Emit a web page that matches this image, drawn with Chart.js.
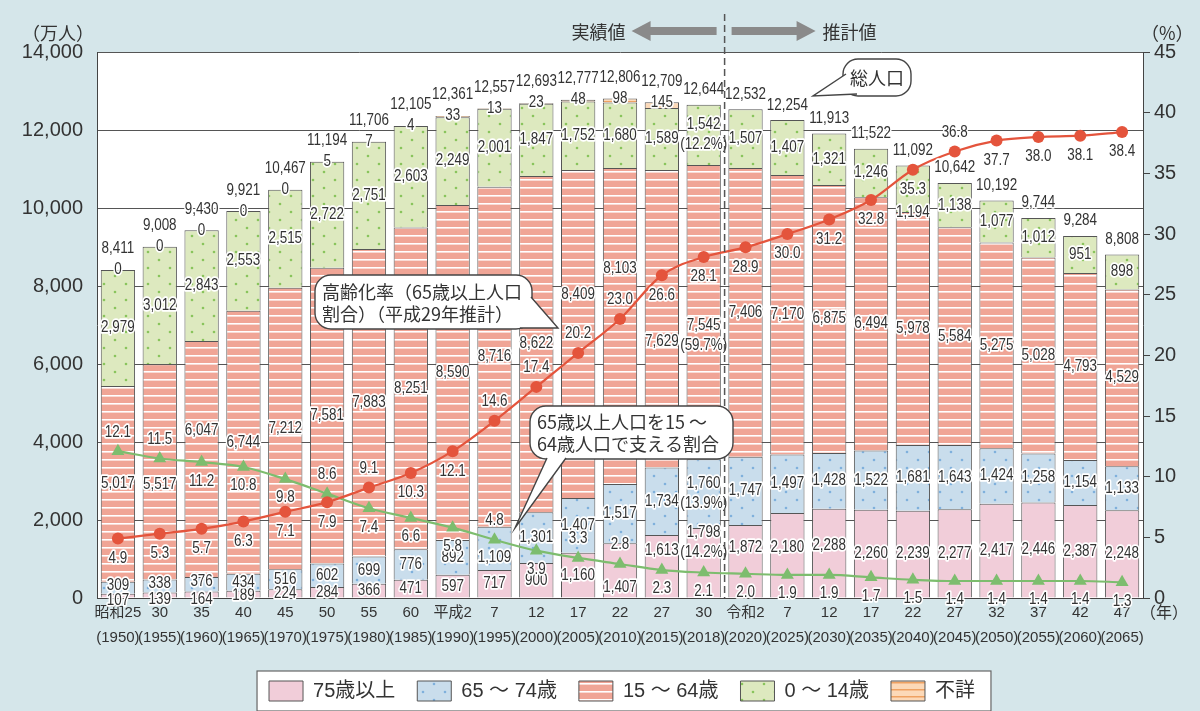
<!DOCTYPE html>
<html lang="ja">
<head>
<meta charset="utf-8">
<title>高齢化の推移と将来推計</title>
<script src="https://cdn.jsdelivr.net/npm/chart.js@4/dist/chart.umd.min.js"></script>
<style>
  html, body { margin: 0; padding: 0; background: #d5e6ea; }
  canvas { display: block; }
</style>
</head>
<body>
<canvas id="chart" width="1200" height="711"></canvas>
<script>
// 和暦ラベルと西暦
const eras = ['昭和25', '30', '35', '40', '45', '50', '55', '60', '平成2', '7', '12', '17', '22', '27', '30',
  '令和2', '7', '12', '17', '22', '27', '32', '37', '42', '47'];
const years = [1950, 1955, 1960, 1965, 1970, 1975, 1980, 1985, 1990, 1995, 2000, 2005, 2010, 2015, 2018,
  2020, 2025, 2030, 2035, 2040, 2045, 2050, 2055, 2060, 2065];

// 人口（万人）
const totalPop = [8411, 9008, 9430, 9921, 10467, 11194, 11706, 12105, 12361, 12557, 12693, 12777, 12806, 12709, 12644,
  12532, 12254, 11913, 11522, 11092, 10642, 10192, 9744, 9284, 8808];
const age75plus = [107, 139, 164, 189, 224, 284, 366, 471, 597, 717, 900, 1160, 1407, 1613, 1798,
  1872, 2180, 2288, 2260, 2239, 2277, 2417, 2446, 2387, 2248];
const age65to74 = [309, 338, 376, 434, 516, 602, 699, 776, 892, 1109, 1301, 1407, 1517, 1734, 1760,
  1747, 1497, 1428, 1522, 1681, 1643, 1424, 1258, 1154, 1133];
const age15to64 = [5017, 5517, 6047, 6744, 7212, 7581, 7883, 8251, 8590, 8716, 8622, 8409, 8103, 7629, 7545,
  7406, 7170, 6875, 6494, 5978, 5584, 5275, 5028, 4793, 4529];
const age0to14 = [2979, 3012, 2843, 2553, 2515, 2722, 2751, 2603, 2249, 2001, 1847, 1752, 1680, 1589, 1542,
  1507, 1407, 1321, 1246, 1194, 1138, 1077, 1012, 951, 898];
const ageUnknown = [0, 0, 0, 0, 0, 5, 7, 4, 33, 13, 23, 48, 98, 145, null,
  null, null, null, null, null, null, null, null, null, null];

// 割合（%）
const agingRate = [4.9, 5.3, 5.7, 6.3, 7.1, 7.9, 9.1, 10.3, 12.1, 14.6, 17.4, 20.2, 23.0, 26.6, 28.1,
  28.9, 30.0, 31.2, 32.8, 35.3, 36.8, 37.7, 38.0, 38.1, 38.4];
const supportRatio = [12.1, 11.5, 11.2, 10.8, 9.8, 8.6, 7.4, 6.6, 5.8, 4.8, 3.9, 3.3, 2.8, 2.3, 2.1,
  2.0, 1.9, 1.9, 1.7, 1.5, 1.4, 1.4, 1.4, 1.4, 1.3];

// 平成30年の構成比（75歳以上, 65～74歳, 15～64歳, 0～14歳）
const shares2018 = ['14.2%', '13.9%', '59.7%', '12.2%'];

const FONT = "'Liberation Sans', 'Noto Sans CJK JP', sans-serif";
const CJK = "'Noto Sans CJK JP', sans-serif";
const INK = '#333';

const canvas = document.getElementById('chart');
const ctx = canvas.getContext('2d');

function tile(w, h, bg, paint) {
  const c = document.createElement('canvas');
  c.width = w;
  c.height = h;
  const g = c.getContext('2d');
  g.fillStyle = bg;
  g.fillRect(0, 0, w, h);
  if (paint) paint(g);
  return ctx.createPattern(c, 'repeat');
}

function dots(color) {
  return g => {
    g.fillStyle = color;
    [[5, 4], [16, 12]].forEach(([x, y]) => {
      g.beginPath();
      g.arc(x, y, 1.3, 0, Math.PI * 2);
      g.fill();
    });
  };
}

function stripes(color, y, thick) {
  return g => {
    g.fillStyle = color;
    g.fillRect(0, y, g.canvas.width, thick);
  };
}

const fillPink = '#f1cdd9';
const fillBlue = tile(22, 16, '#c9ddec', dots('#7fb0dc'));
const fillSalmon = tile(4, 8, '#f0a596', stripes('#ffffff', 3, 1.6));
const fillGreen = tile(22, 16, '#dde9bf', dots('#89c45c'));
const fillOrange = tile(4, 7, '#fcd9b8', stripes('#efa262', 3, 1.5));

// 数値ラベル（白縁付き、やや縦長）
function haloText(c, text, x, y, size) {
  c.save();
  c.translate(x, y);
  c.scale(0.84, 1);
  c.font = size + "px 'Liberation Sans', Arial, sans-serif";
  c.textAlign = 'center';
  c.textBaseline = 'middle';
  c.lineJoin = 'round';
  c.lineWidth = 3.5;
  c.strokeStyle = '#fff';
  c.strokeText(text, 0, 0);
  c.fillStyle = INK;
  c.fillText(text, 0, 0);
  c.restore();
}

const fmt = v => v.toLocaleString('en-US');

// 線や隣のラベルと重なるラベルの上下ずらし
const nudges = {
  0: { 0: 5, 1: 5, 2: 5, 3: 2, 12: 17, 13: -16, 14: -20, 15: -14, 16: -8, 17: -8 },
  1: { 0: -2, 1: -2, 2: -3, 9: 9 },
  2: { 1: 13, 2: -28, 11: -39, 12: -57, 13: 23, 14: 23 },
  3: { 19: 24 }
};
const redAbove = [6, 9, 10, 11, 12, 20];
const greenAbove = [0, 1, 5, 9, 11, 12];

const backdrop = {
  id: 'backdrop',
  afterLayout(chart) {
    // 凡例を少し右へ
    chart.legend.left += 22;
    chart.legend.right += 22;
  },
  beforeDraw(chart) {
    const c = chart.ctx;
    const a = chart.chartArea;
    c.save();
    c.fillStyle = '#d5e6ea';
    c.fillRect(0, 0, chart.width, chart.height);
    c.fillStyle = '#fff';
    c.fillRect(a.left, a.top, a.right - a.left, a.bottom - a.top);
    // 凡例の枠
    const hb = chart.legend.legendHitBoxes;
    if (hb && hb.length) {
      const l = Math.min(...hb.map(b => b.left)) - 12;
      const r = Math.max(...hb.map(b => b.left + b.width)) + 16;
      const t = hb[0].top - 10;
      const b = hb[0].top + hb[0].height + 10;
      c.fillRect(l, t, r - l, b - t);
      c.strokeStyle = '#666';
      c.lineWidth = 1.2;
      c.strokeRect(l, t, r - l, b - t);
    }
    c.restore();
  }
};

const valueLabels = {
  id: 'valueLabels',
  afterDatasetsDraw(chart) {
    const c = chart.ctx;
    const i2018 = years.indexOf(2018);
    for (let d = 0; d < 4; d++) {
      const ds = chart.data.datasets[d];
      chart.getDatasetMeta(d).data.forEach((el, i) => {
        const v = ds.data[i];
        if (v == null) return;
        const y = (el.y + el.base) / 2 + ((nudges[d] || {})[i] || 0);
        if (i === i2018) {
          haloText(c, fmt(v), el.x, y - 10, 16);
          haloText(c, '(' + shares2018[d] + ')', el.x, y + 10, 16);
        } else {
          haloText(c, fmt(v), el.x, y, 16);
        }
      });
    }
    // 不詳 と 総人口
    const metaU = chart.getDatasetMeta(4);
    totalPop.forEach((t, i) => {
      let top = Infinity;
      for (let d = 0; d < 5; d++) {
        if (chart.data.datasets[d].data[i] != null) top = Math.min(top, chart.getDatasetMeta(d).data[i].y);
      }
      const x = metaU.data[i].x;
      if (ageUnknown[i] != null) {
        haloText(c, fmt(ageUnknown[i]), x, top, 16);
        haloText(c, fmt(t), x, top - 21, 16);
      } else {
        haloText(c, fmt(t), x, top - 15, 16);
      }
    });
    // 折れ線の値
    chart.getDatasetMeta(5).data.forEach((el, i) => {
      haloText(c, agingRate[i].toFixed(1), el.x, el.y + (redAbove.includes(i) ? -19 : 20), 16);
    });
    chart.getDatasetMeta(6).data.forEach((el, i) => {
      haloText(c, supportRatio[i].toFixed(1), el.x, el.y + (greenAbove.includes(i) ? -19 : 19), 16);
    });
  }
};

function roundBox(c, x, y, w, h, r) {
  c.beginPath();
  c.moveTo(x + r, y);
  c.lineTo(x + w - r, y);
  c.arcTo(x + w, y, x + w, y + r, r);
  c.lineTo(x + w, y + h - r);
  c.arcTo(x + w, y + h, x + w - r, y + h, r);
  c.lineTo(x + r, y + h);
  c.arcTo(x, y + h, x, y + h - r, r);
  c.lineTo(x, y + r);
  c.arcTo(x, y, x + r, y, r);
  c.closePath();
}

function callout(c, box, base, tip, lines, tx, ty, align) {
  c.save();
  c.lineWidth = 1.4;
  c.strokeStyle = '#444';
  c.fillStyle = '#fff';
  roundBox(c, box[0], box[1], box[2], box[3], box[4]);
  c.fill();
  c.stroke();
  c.beginPath();
  c.moveTo(base[0][0], base[0][1]);
  c.lineTo(tip[0], tip[1]);
  c.lineTo(base[1][0], base[1][1]);
  c.closePath();
  c.fill();
  c.beginPath();
  c.moveTo(base[0][0], base[0][1]);
  c.lineTo(tip[0], tip[1]);
  c.lineTo(base[1][0], base[1][1]);
  c.stroke();
  c.fillStyle = INK;
  c.font = '18px ' + CJK;
  c.textAlign = align;
  c.textBaseline = 'middle';
  lines.forEach((s, k) => c.fillText(s, tx, ty + k * 22));
  c.restore();
}

const annotations = {
  id: 'annotations',
  afterDraw(chart) {
    const c = chart.ctx;
    const xs = chart.scales.x;
    const a = chart.chartArea;
    const mid = (xs.getPixelForValue(14) + xs.getPixelForValue(15)) / 2;
    c.save();
    // 実績値／推計値の境界
    c.strokeStyle = '#555';
    c.lineWidth = 1.5;
    c.setLineDash([7, 4]);
    c.beginPath();
    c.moveTo(mid, 14);
    c.lineTo(mid, a.bottom);
    c.stroke();
    c.setLineDash([]);
    c.fillStyle = '#8a8a8a';
    c.beginPath();
    c.moveTo(mid - 93, 31);
    c.lineTo(mid - 74, 21);
    c.lineTo(mid - 74, 27);
    c.lineTo(mid - 8, 27);
    c.lineTo(mid - 8, 35);
    c.lineTo(mid - 74, 35);
    c.lineTo(mid - 74, 41);
    c.closePath();
    c.fill();
    c.beginPath();
    c.moveTo(mid + 91, 31);
    c.lineTo(mid + 72, 21);
    c.lineTo(mid + 72, 27);
    c.lineTo(mid + 7, 27);
    c.lineTo(mid + 7, 35);
    c.lineTo(mid + 72, 35);
    c.lineTo(mid + 72, 41);
    c.closePath();
    c.fill();
    c.fillStyle = INK;
    c.font = '18px ' + CJK;
    c.textBaseline = 'middle';
    c.textAlign = 'right';
    c.fillText('実績値', mid - 99, 32);
    c.textAlign = 'left';
    c.fillText('推計値', mid + 98, 32);
    // 軸の単位
    c.fillText('（万人）', 22, 33);
    c.fillText('（%）', 1141, 33);
    c.font = '16px ' + CJK;
    c.fillText('（年）', 1140, 612);
    c.restore();

    callout(c, [843, 59, 68, 37, 15], [[846, 74], [857, 94]], [813, 96], ['総人口'], 877, 78, 'center');
    callout(c, [315, 275, 217, 54, 16], [[531, 297], [520, 328]], [558, 328],
      ['高齢化率（65歳以上人口', '割合）（平成29年推計）'], 322, 292, 'left');
    callout(c, [530, 406, 203, 53, 16], [[547, 458], [566, 458]], [515, 528],
      ['65歳以上人口を15 ～', '64歳人口で支える割合'], 537, 422, 'left');
  }
};

const barCommon = {
  type: 'bar',
  stack: 'pop',
  yAxisID: 'y',
  order: 1,
  borderColor: '#555',
  borderWidth: 1,
  barPercentage: 0.82,
  categoryPercentage: 1
};

new Chart(ctx, {
  data: {
    labels: eras.map((e, i) => [e, '(' + years[i] + ')']),
    datasets: [
      { ...barCommon, label: '75歳以上', data: age75plus, backgroundColor: fillPink },
      { ...barCommon, label: '65 ～ 74歳', data: age65to74, backgroundColor: fillBlue },
      { ...barCommon, label: '15 ～ 64歳', data: age15to64, backgroundColor: fillSalmon },
      { ...barCommon, label: '0 ～ 14歳', data: age0to14, backgroundColor: fillGreen },
      { ...barCommon, label: '不詳', data: ageUnknown, backgroundColor: fillOrange },
      {
        type: 'line', label: '高齢化率', data: agingRate, yAxisID: 'y2', order: 0,
        borderColor: '#e4543c', backgroundColor: '#e4543c', borderWidth: 2.2,
        pointRadius: 6, pointBorderWidth: 0, cubicInterpolationMode: 'monotone'
      },
      {
        type: 'line', label: '65歳以上人口を15～64歳人口で支える割合', data: supportRatio, yAxisID: 'y2', order: 0,
        borderColor: '#7dbd6e', backgroundColor: '#7dbd6e', borderWidth: 2.2,
        pointStyle: 'triangle', pointRadius: 7.5, pointBorderWidth: 0, cubicInterpolationMode: 'monotone'
      }
    ]
  },
  options: {
    responsive: false,
    animation: false,
    layout: { padding: { left: 0, top: 52, right: 0, bottom: 0 } },
    plugins: {
      legend: {
        position: 'bottom',
        labels: {
          filter: item => item.datasetIndex < 5,
          boxWidth: 34,
          boxHeight: 20,
          padding: 22,
          color: INK,
          font: { size: 20, family: FONT }
        }
      },
      tooltip: { enabled: false }
    },
    scales: {
      x: {
        stacked: true,
        grid: { display: false, drawTicks: false },
        border: { color: '#444' },
        ticks: {
          autoSkip: false, maxRotation: 0, padding: 2,
          color: INK, font: { size: 15, family: FONT, lineHeight: 1.7 }
        },
        afterFit: s => { s.height = 61; }
      },
      y: {
        stacked: true,
        min: 0, max: 14000,
        grid: { color: '#555', drawTicks: false },
        border: { color: '#444' },
        ticks: {
          stepSize: 2000, padding: 14, color: INK,
          font: { size: 20, family: FONT },
          callback: v => fmt(v)
        },
        afterFit: s => { s.width = 97; }
      },
      y2: {
        position: 'right',
        min: 0, max: 45,
        grid: { drawOnChartArea: false, color: '#444', tickLength: 7 },
        border: { color: '#444' },
        ticks: { stepSize: 5, padding: 4, color: INK, font: { size: 20, family: FONT } },
        afterFit: s => { s.width = 57; }
      }
    }
  },
  plugins: [backdrop, valueLabels, annotations]
});
</script>
</body>
</html>
